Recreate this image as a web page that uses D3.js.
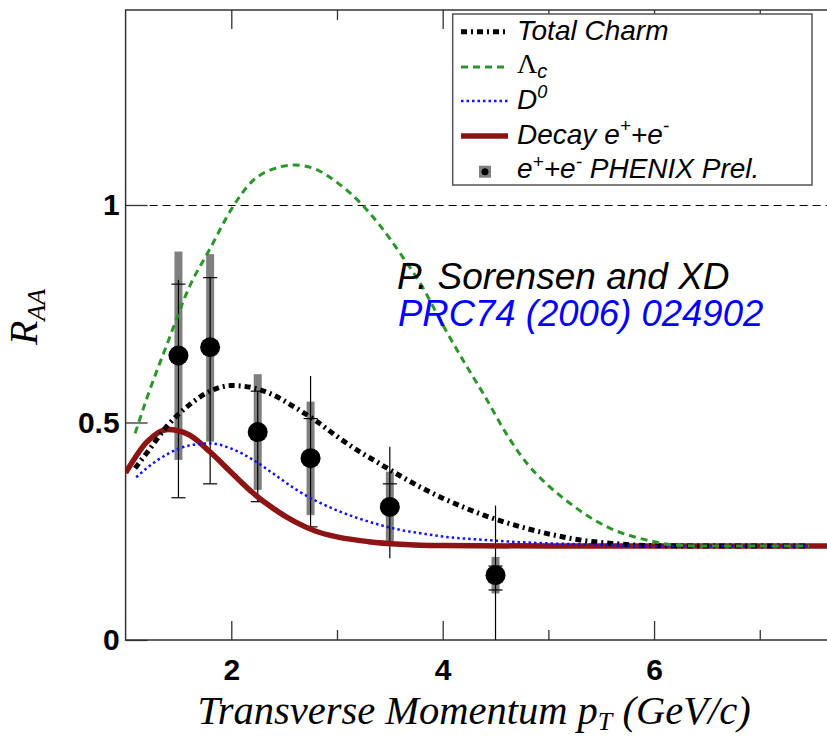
<!DOCTYPE html>
<html lang="en">
<head>
    <meta charset="UTF-8">
    <title>RAA charm</title>
    <script src="https://cdn.jsdelivr.net/npm/d3@7/dist/d3.min.js"></script>
    <style>
        * {
            box-sizing: border-box;
            padding: 0;
            margin: 0;
            border: 0;
        }
        body { background: #fff; }
        svg { display: block; }
    </style>
</head>
<body>
    <svg width="827" height="738"></svg>
    <script>
        // PHENIX preliminary points
        var ptData = [1.5, 1.8, 2.25, 2.75, 3.5, 4.5];
        var raaData = [0.654, 0.673, 0.478, 0.418, 0.306, 0.149];
        var sysLo = [0.414, 0.456, 0.345, 0.287, 0.226, 0.107];
        var sysHi = [0.893, 0.887, 0.611, 0.548, 0.387, 0.191];
        var statLo = [0.327, 0.359, 0.318, 0.26, 0.188, 0.0];
        var statHi = [0.828, 0.833, 0.572, 0.607, 0.444, 0.309];
        var capLo = [0.327, 0.359, 0.318, 0.26, null, 0.115];
        var capHi = [0.818, 0.833, 0.572, 0.509, 0.359, 0.170];

        // model curves
        var ptTotal = [1.09, 1.2, 1.4, 1.6, 1.8, 2.0, 2.2, 2.4, 2.6, 2.8, 3.0, 3.2, 3.4, 3.6, 3.8, 4.0, 4.2, 4.4, 4.6, 4.8, 5.0, 5.3, 5.6, 6.0, 6.5, 7.47];
        var raaTotal = [0.395, 0.43, 0.494, 0.54, 0.572, 0.585, 0.58, 0.563, 0.535, 0.504, 0.468, 0.435, 0.406, 0.377, 0.35, 0.326, 0.305, 0.286, 0.27, 0.256, 0.244, 0.23, 0.222, 0.217, 0.216, 0.216];
        var ptLc = [1.09, 1.2, 1.4, 1.6, 1.8, 2.0, 2.2, 2.4, 2.6, 2.8, 3.0, 3.2, 3.4, 3.6, 3.8, 4.0, 4.2, 4.4, 4.6, 4.8, 5.0, 5.2, 5.4, 5.6, 5.8, 6.0, 6.2, 6.5, 7.0, 7.47];
        var raaLc = [0.475, 0.555, 0.685, 0.81, 0.9, 0.99, 1.055, 1.083, 1.092, 1.082, 1.052, 1.01, 0.955, 0.888, 0.815, 0.725, 0.64, 0.56, 0.475, 0.405, 0.355, 0.315, 0.281, 0.255, 0.238, 0.226, 0.218, 0.216, 0.216, 0.216];
        var ptD0 = [1.1, 1.2, 1.4, 1.6, 1.8, 2.0, 2.2, 2.4, 2.6, 2.8, 3.0, 3.2, 3.4, 3.6, 3.8, 4.0, 4.4, 4.8, 5.3, 6.0, 7.47];
        var raaD0 = [0.374, 0.395, 0.428, 0.447, 0.452, 0.44, 0.415, 0.382, 0.348, 0.32, 0.298, 0.28, 0.265, 0.253, 0.245, 0.238, 0.23, 0.224, 0.22, 0.216, 0.216];
        var ptDecay = [1.0, 1.2, 1.4, 1.6, 1.8, 2.0, 2.2, 2.4, 2.6, 2.8, 3.0, 3.3, 3.6, 4.0, 5.0, 6.0, 7.64];
        var raaDecay = [0.384, 0.455, 0.484, 0.472, 0.432, 0.385, 0.339, 0.302, 0.272, 0.25, 0.237, 0.226, 0.22, 0.217, 0.216, 0.216, 0.216];

        var xMajor = [2, 4, 6];
        var xMinor = [3, 5, 7];
        var yTicks = [0, 0.5, 1];
        var yTickLabels = ["0", "0.5", "1"];

        var svg = d3.select("svg");
        var x = d3.scaleLinear().domain([1, 7.64]).range([125.6, 827.4]);
        var y = d3.scaleLinear().domain([0, 1.448]).range([640, 10.1]);

        svg.append("clipPath").attr("id", "plotclip")
            .append("rect")
            .attr("x", x(1)).attr("y", y(1.448))
            .attr("width", x(7.64) - x(1)).attr("height", y(0) - y(1.448));

        // dashed line at R_AA = 1
        svg.append("line")
            .attr("x1", x(1) + 24).attr("x2", x(7.64))
            .attr("y1", Math.round(y(1)) + 0.5).attr("y2", Math.round(y(1)) + 0.5)
            .attr("stroke", "#000").attr("stroke-width", 1)
            .attr("stroke-dasharray", "8,5");

        // axes
        var tickFont = "'Liberation Sans', Arial, sans-serif";
        var xAxis = d3.axisBottom(x).tickValues(xMajor).tickSizeInner(-19).tickSizeOuter(0).tickPadding(19)
            .tickFormat(d3.format("d"));
        var gx = svg.append("g").attr("transform", "translate(0," + y(0) + ")").call(xAxis);
        var xAxisMinor = d3.axisBottom(x).tickValues(xMinor).tickSizeInner(-10).tickSizeOuter(0).tickFormat("");
        var gx2 = svg.append("g").attr("transform", "translate(0," + y(0) + ")").call(xAxisMinor);
        var topMajor = d3.axisTop(x).tickValues(xMajor).tickSizeInner(-19).tickSizeOuter(0).tickFormat("");
        var gt = svg.append("g").attr("transform", "translate(0," + y(1.448) + ")").call(topMajor);
        var topMinor = d3.axisTop(x).tickValues(xMinor).tickSizeInner(-10).tickSizeOuter(0).tickFormat("");
        var gt2 = svg.append("g").attr("transform", "translate(0," + y(1.448) + ")").call(topMinor);
        var yAxis = d3.axisLeft(y).tickValues(yTicks).tickSizeInner(-22).tickSizeOuter(0).tickPadding(6)
            .tickFormat(function (d, i) { return yTickLabels[i]; });
        var gy = svg.append("g").attr("transform", "translate(" + x(1) + ",0)").call(yAxis);

        [gx, gx2, gt, gt2, gy].forEach(function (g) {
            g.select(".domain").remove();
            g.selectAll(".tick line").attr("stroke", "#333").attr("stroke-width", 1.3);
            g.selectAll(".tick text")
                .attr("fill", "#000")
                .style("font-family", tickFont)
                .style("font-weight", "bold")
                .style("font-size", "30px");
        });

        // frame
        svg.append("path")
            .attr("d", "M" + x(7.64) + "," + y(1.448) + "H" + x(1) + "V" + y(0) + "H" + x(7.64))
            .attr("fill", "none").attr("stroke", "#333").attr("stroke-width", 1.5);

        // data points
        var pts = svg.append("g");
        var idx = d3.range(ptData.length);
        pts.selectAll("rect.sys").data(idx).enter().append("rect")
            .attr("x", function (i) { return x(ptData[i]) - 4; })
            .attr("y", function (i) { return y(sysHi[i]); })
            .attr("width", 8)
            .attr("height", function (i) { return y(sysLo[i]) - y(sysHi[i]); })
            .attr("fill", "#7f7f7f");
        pts.selectAll("line.stat").data(idx).enter().append("line")
            .attr("x1", function (i) { return x(ptData[i]); })
            .attr("x2", function (i) { return x(ptData[i]); })
            .attr("y1", function (i) { return y(statHi[i]); })
            .attr("y2", function (i) { return y(statLo[i]); })
            .attr("stroke", "#000").attr("stroke-width", 1.2);
        var caps = [];
        idx.forEach(function (i) {
            if (capLo[i] !== null) caps.push([ptData[i], capLo[i]]);
            if (capHi[i] !== null) caps.push([ptData[i], capHi[i]]);
        });
        pts.selectAll("line.cap").data(caps).enter().append("line")
            .attr("x1", function (d) { return x(d[0]) - 7; })
            .attr("x2", function (d) { return x(d[0]) + 7; })
            .attr("y1", function (d) { return y(d[1]); })
            .attr("y2", function (d) { return y(d[1]); })
            .attr("stroke", "#000").attr("stroke-width", 1.2);
        pts.selectAll("circle").data(idx).enter().append("circle")
            .attr("cx", function (i) { return x(ptData[i]); })
            .attr("cy", function (i) { return y(raaData[i]); })
            .attr("r", 10)
            .attr("fill", "#000");

        // curves
        var line = d3.line()
            .x(function (d) { return x(d[0]); })
            .y(function (d) { return y(d[1]); })
            .curve(d3.curveMonotoneX);
        var curves = [
            { pt: ptDecay, v: raaDecay, color: "#8c1414", w: 5.5, dash: null },
            { pt: ptTotal, v: raaTotal, color: "#000", w: 5, dash: "6,4,2,4" },
            { pt: ptD0, v: raaD0, color: "#1010ff", w: 2.5, dash: "2.5,3" },
            { pt: ptLc, v: raaLc, color: "#2a962a", w: 3, dash: "7,5" }
        ];
        var gc = svg.append("g").attr("clip-path", "url(#plotclip)");
        curves.forEach(function (c) {
            gc.append("path")
                .datum(d3.zip(c.pt, c.v))
                .attr("d", line)
                .attr("fill", "none")
                .attr("stroke", c.color)
                .attr("stroke-width", c.w)
                .attr("stroke-dasharray", c.dash);
        });

        // legend
        var lg = svg.append("g");
        lg.append("rect")
            .attr("x", 452.7).attr("y", 14).attr("width", 359.3).attr("height", 171)
            .attr("fill", "#fff").attr("stroke", "#555").attr("stroke-width", 1.5);
        var rowY = [31.7, 67, 101, 136];
        var legendCurves = [curves[1], curves[3], curves[2], curves[0]];
        legendCurves.forEach(function (c, i) {
            lg.append("line")
                .attr("x1", 461).attr("x2", 508)
                .attr("y1", rowY[i]).attr("y2", rowY[i])
                .attr("stroke", c.color)
                .attr("stroke-width", c.w)
                .attr("stroke-dasharray", c.dash);
        });
        lg.append("rect").attr("x", 479).attr("y", 165.7).attr("width", 12).attr("height", 12).attr("fill", "#808080");
        lg.append("circle").attr("cx", 485).attr("cy", 171.7).attr("r", 3.5).attr("fill", "#000");

        var lf = "'Liberation Sans', Arial, sans-serif";
        function ltext(yb) {
            return lg.append("text").attr("x", 517).attr("y", yb)
                .style("font-family", lf).style("font-style", "italic").style("font-size", "28px").attr("fill", "#000");
        }
        ltext(39.5).text("Total Charm");
        var t2 = ltext(73);
        t2.append("tspan").text("\u039B").style("font-family", "'Liberation Serif', 'Times New Roman', serif").style("font-style", "normal");
        t2.append("tspan").text("c").attr("dy", 5).style("font-size", "20px");
        var t3 = ltext(109);
        t3.append("tspan").text("D");
        t3.append("tspan").text("0").attr("dy", -11).style("font-size", "18px");
        var t4 = ltext(143.5);
        t4.append("tspan").text("Decay e");
        t4.append("tspan").text("+").attr("dy", -12).style("font-size", "19px");
        t4.append("tspan").text("+e").attr("dy", 12);
        t4.append("tspan").text("-").attr("dy", -12).style("font-size", "19px");
        var t5 = ltext(178);
        t5.append("tspan").text("e");
        t5.append("tspan").text("+").attr("dy", -10).style("font-size", "19px");
        t5.append("tspan").text("+e").attr("dy", 10);
        t5.append("tspan").text("-").attr("dy", -10).style("font-size", "19px");
        t5.append("tspan").text(" PHENIX Prel.").attr("dy", 10);

        // annotation
        svg.append("text").attr("x", 397).attr("y", 289)
            .style("font-family", lf).style("font-style", "italic").style("font-size", "37px")
            .attr("fill", "#000").text("P. Sorensen and XD");
        svg.append("text").attr("x", 398).attr("y", 326)
            .style("font-family", lf).style("font-style", "italic").style("font-size", "36.5px")
            .attr("fill", "#0000ff").text("PRC74 (2006) 024902");

        // axis titles
        var serif = "'Liberation Serif', 'Times New Roman', serif";
        var xt = svg.append("text").attr("x", 474).attr("y", 724).attr("text-anchor", "middle")
            .style("font-family", serif).style("font-style", "italic").style("font-size", "40.5px").attr("fill", "#000");
        xt.append("tspan").text("Transverse Momentum p");
        xt.append("tspan").text("T").attr("dy", 6).style("font-size", "26px");
        xt.append("tspan").text(" (GeV/c)").attr("dy", -6);

        var yt = svg.append("text").attr("transform", "translate(37,317) rotate(-90)").attr("text-anchor", "middle")
            .style("font-family", serif).style("font-style", "italic").style("font-size", "40px").attr("fill", "#000");
        yt.append("tspan").text("R");
        yt.append("tspan").text("AA").attr("dy", 8).style("font-size", "26px");
    </script>
</body>
</html>
